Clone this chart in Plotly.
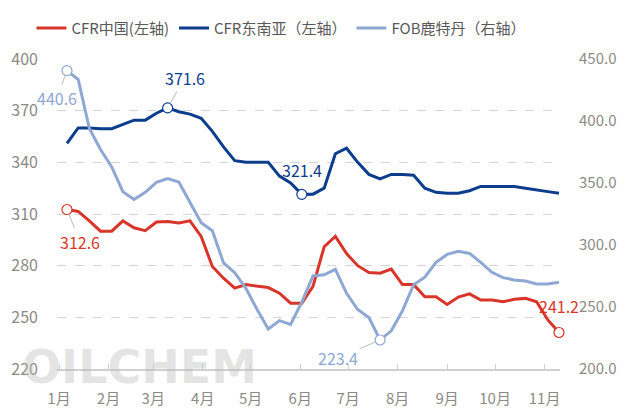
import pandas as pd
import plotly.graph_objects as go

# weekly observation dates (Fridays)
dates = list(pd.date_range("2023-01-06", periods=45, freq="7D"))

cfr_china = [312.6, 311.5, 306, 300, 300, 306, 302, 300.3, 305.3, 305.6,
             304.8, 306, 297, 279.5, 272.7, 267, 269, 268.3, 267.3, 264,
             258.2, 258.2, 268, 291, 297, 287, 280, 276, 275.6, 278,
             269, 269, 262, 262, 257.5, 261.8, 263.6, 260, 260, 259,
             260.5, 261, 259, 248.5, 241.2]

cfr_sea = [351, 360, 360, 359.5, 359.5, 362, 364.5, 364.5, 368.5, 371.6,
           369.4, 368, 365.6, 358, 349, 341, 340, 340, 340, 332,
           328, 321.4, 321.5, 325, 345, 348.2, 340, 333, 330.4, 333,
           333, 332.5, 325, 322.6, 322, 322, 323.5, 326, 326, 326,
           326, 325, 324.2, 323, 322]

fob_rtm = [440.6, 433.5, 394, 377, 363, 343, 336.7, 342.5, 350.5, 353.5,
           350.8, 335, 318, 311.5, 285.5, 277.7, 265, 248, 232.2, 239,
           236, 254, 275, 276, 280.4, 261, 248, 241.5, 223.4, 230.8,
           247, 268, 274, 286, 292.4, 295, 293.2, 286, 278, 273.7,
           271.8, 271, 268.6, 268.6, 270]

month_ticks = ["2023-%02d-01" % m for m in range(1, 12)]
month_labels = ["%d月" % m for m in range(1, 12)]
left_ticks = [220, 250, 280, 310, 340, 370, 400]
right_ticks = [200, 250, 300, 350, 400, 450]

names = ["CFR中国(左轴)", "CFR东南亚（左轴）", "FOB鹿特丹（右轴）"]
RED = "#D8362A"
NAVY = "#0B3D8C"
LBLUE = "#8EA7D3"
FONT = "Noto Sans CJK SC"
TICKC = "#8C8A86"

fig = go.Figure()
fig.add_trace(go.Scatter(x=dates, y=cfr_china, name=names[0], mode="lines",
                         line=dict(color=RED, width=3)))
fig.add_trace(go.Scatter(x=dates, y=cfr_sea, name=names[1], mode="lines",
                         line=dict(color=NAVY, width=3)))
fig.add_trace(go.Scatter(x=dates, y=fob_rtm, name=names[2], mode="lines",
                         line=dict(color=LBLUE, width=3), yaxis="y2"))

# labelled points: (series, index, axis, color, ax, ay, arrow)
marks = [
    (cfr_china, 0, "y", RED, 13, 32, True),
    (cfr_china, 44, "y", RED, 0, -26, False),
    (cfr_sea, 9, "y", NAVY, 17, -30, True),
    (cfr_sea, 21, "y", NAVY, 0, -24, False),
    (fob_rtm, 0, "y2", LBLUE, -10, 27, True),
    (fob_rtm, 28, "y2", LBLUE, -42, 18, True),
]
for ser, i, ax_, col, dx, dy, arrow in marks:
    fig.add_trace(go.Scatter(x=[dates[i]], y=[ser[i]], mode="markers",
                             yaxis=ax_, showlegend=False, hoverinfo="skip",
                             cliponaxis=False,
                             marker=dict(size=10, color="white",
                                         line=dict(color=col, width=1.2))))
    yref = "y" if ax_ == "y" else "y2"
    txt = ("%.1f" % ser[i])
    if arrow:
        fig.add_annotation(x=dates[i], y=ser[i], xref="x", yref=yref,
                           text=txt, showarrow=True, arrowhead=0,
                           arrowcolor="#BBBBBB", arrowwidth=1, standoff=5,
                           ax=dx, ay=dy, font=dict(color=col, size=16, family=FONT))
    else:
        fig.add_annotation(x=dates[i], y=ser[i], xref="x", yref=yref,
                           text=txt, showarrow=False, yshift=-dy,
                           font=dict(color=col, size=16, family=FONT))

# watermark
fig.add_annotation(x=0.165, y=0.006, xref="paper", yref="paper", text="<b>OILCHEM</b>",
                   showarrow=False, xanchor="center", yanchor="middle",
                   font=dict(size=46, color="rgba(185,185,185,0.38)", family="DejaVu Sans"))

# the page body adds an 8px offset; figure is sized/margined to compensate
fig.update_layout(
    width=618, height=404,
    margin=dict(l=49, r=66, t=51, b=43, autoexpand=False),
    paper_bgcolor="white", plot_bgcolor="white",
    font=dict(family=FONT, size=15, color=TICKC),
    showlegend=True,
    legend=dict(orientation="h", xref="container", yref="container",
                x=0.038, xanchor="left", y=0.950, yanchor="middle",
                font=dict(size=15, color="#595959", family=FONT),
                bgcolor="rgba(0,0,0,0)", itemwidth=30, tracegroupgap=0),
    xaxis=dict(type="date", range=["2022-12-30 18:00", "2023-11-10 15:00"],
               tickvals=month_ticks, ticktext=month_labels,
               ticks="inside", ticklen=5, tickcolor="#D0D0D0",
               showline=True, linecolor="#D0D0D0", linewidth=1.5,
               showgrid=False, zeroline=False, automargin=False,
               ticklabelstandoff=15,
               tickfont=dict(size=15, color=TICKC)),
    yaxis=dict(range=[220, 400], tickvals=left_ticks, showgrid=True,
               gridcolor="#D5D5D5", griddash="dash", gridwidth=1,
               zeroline=False, showline=False, ticks="", automargin=False,
               ticklabelstandoff=18, tickfont=dict(size=16, color=TICKC)),
    yaxis2=dict(range=[200, 450], tickvals=right_ticks, tickformat=".1f",
                overlaying="y", side="right", showgrid=False, zeroline=False,
                showline=False, ticks="", ticklabelstandoff=18, automargin=False,
                tickfont=dict(size=15, color=TICKC)),
)

fig.write_html("out.html")
